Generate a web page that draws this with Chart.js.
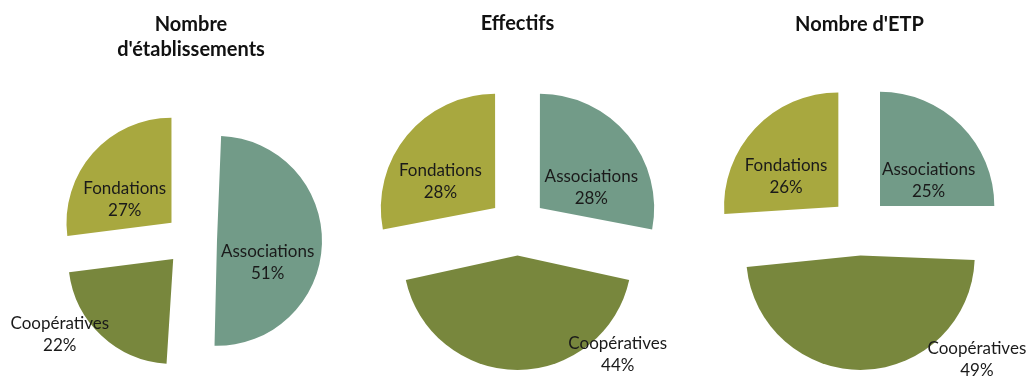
<!DOCTYPE html>
<html><head><meta charset="utf-8">
<script src="https://cdn.jsdelivr.net/npm/chart.js@4.4.1/dist/chart.umd.min.js"></script>
<style>
html,body{margin:0;padding:0;background:#fff;}
#wrap{position:relative;width:1026px;height:378px;overflow:hidden;}
#wrap canvas{position:absolute;left:0;top:0;}
</style></head><body>
<div id="wrap">
<canvas id="c1" width="1026" height="378"></canvas>
<canvas id="c2" width="1026" height="378"></canvas>
<canvas id="c3" width="1026" height="378"></canvas>
</div>
<script>
// ---- data ----
const categories = ['Associations', 'Coopératives', 'Fondations'];
const title1 = ['Nombre', "d'établissements"];
const title2 = 'Effectifs';
const title3 = "Nombre d'ETP";
const etablissements = [51, 22, 27];
const effectifs = [28, 44, 28];
const etp = [25, 49, 26];

// ---- styles ----
const sliceColors = ['#729B88', '#78873D', '#A8A83F'];
const FONT = 'Lato, "Open Sans", sans-serif';

// Keep every slice the same radius when exploded (Chart.js enlarges big exploded slices)
const sliceFix = {
  id: 'sliceFix',
  beforeDatasetDraw(chart, args) {
    const meta = args.meta;
    const R = meta.controller.outerRadius;
    meta.data.forEach(el => {
      const off = (el.options.offset || 0) / 4;
      const fix = 1 - Math.sin(Math.min(Math.PI, el.circumference));
      el.outerRadius = R - off * fix;
    });
  }
};

const sliceLabels = {
  id: 'sliceLabels',
  afterDatasetsDraw(chart, args, opts) {
    const meta = chart.getDatasetMeta(0);
    const ctx = chart.ctx;
    ctx.save();
    ctx.font = opts.size + 'px ' + FONT;
    ctx.fillStyle = '#1a1a1a';
    ctx.textAlign = 'center';
    ctx.textBaseline = 'middle';
    meta.data.forEach((el, i) => {
      const off = (el.options.offset || 0) / 4;
      const half = (el.startAngle + el.endAngle) / 2;
      const sx = el.x + Math.cos(half) * off, sy = el.y + Math.sin(half) * off;
      const [deg, r] = opts.place[i];
      const t = deg * Math.PI / 180;
      const x = sx + r * Math.sin(t), y = sy - r * Math.cos(t);
      ctx.fillText(chart.data.labels[i], x, y - opts.gap / 2);
      ctx.fillText(chart.data.datasets[0].data[i] + '%', x, y + opts.gap / 2);
    });
    ctx.restore();
  }
};

function makePie(id, title, values, cfg) {
  return new Chart(document.getElementById(id), {
    type: 'pie',
    data: {
      labels: categories,
      datasets: [{
        data: values,
        backgroundColor: sliceColors,
        borderWidth: 0,
        offset: cfg.explode * 4,
        radius: cfg.radius,
        clip: false
      }]
    },
    options: {
      responsive: false,
      animation: false,
      events: [],
      layout: { padding: cfg.padding },
      plugins: {
        legend: { display: false },
        tooltip: { enabled: false },
        title: {
          display: true,
          text: title,
          color: '#111',
          font: { family: FONT, size: 20, weight: 'bold', lineHeight: 1.25 },
          padding: cfg.titlePad
        },
        sliceLabels: { place: cfg.place, size: 17, gap: 22 }
      }
    },
    plugins: [sliceFix, sliceLabels]
  });
}

makePie('c1', title1, etablissements, {
  radius: 105, explode: 26,
  padding: { left: 0, right: 644, top: 0, bottom: 0 },
  titlePad: { top: 12.5, bottom: 39.5 },
  place: [[113, 55], [236.5, 136], [296, 52]]
});
makePie('c2', title2, effectifs, {
  radius: 114.3, explode: 29,
  padding: { left: 347.5, right: 338.5, top: 0, bottom: 0 },
  titlePad: { top: 11, bottom: 39.2 },
  place: [[68, 55.5], [134.7, 141], [296, 61]]
});
makePie('c3', title3, etp, {
  radius: 114.3, explode: 29,
  padding: { left: 693, right: 0, top: 0, bottom: 0 },
  titlePad: { top: 12.5, bottom: 37.7 },
  place: [[62.6, 54.7], [131.7, 156], [300, 60.4]]
});
</script>
</body></html>
